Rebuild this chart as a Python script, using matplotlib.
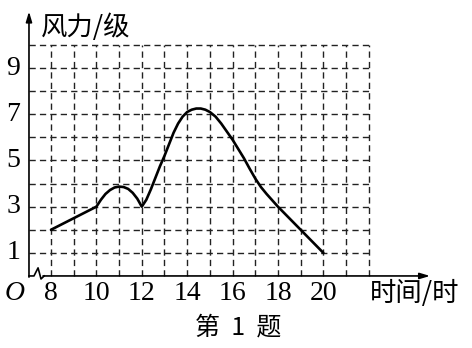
import matplotlib.pyplot as plt

plt.rcParams['font.family'] = ['Liberation Serif', 'Noto Sans CJK SC', 'DejaVu Sans']

# wind level over the day
hours = [8, 10, 10.2, 10.4, 10.6, 10.8, 11, 11.2, 11.4, 11.6, 11.8, 12,
         12.2, 12.4, 12.6, 12.8, 13.0, 13.2, 13.4, 13.6, 13.8, 14.0, 14.2,
         14.4, 14.6, 14.8, 15.0, 15.25, 15.5, 15.75, 16.0, 16.25, 16.5,
         16.75, 17.0, 17.25, 17.5, 18.0, 18.5, 19.0, 19.5, 20]
wind = [2, 3, 3.3, 3.55, 3.72, 3.83, 3.87, 3.85, 3.77, 3.6, 3.35, 3.0,
        3.3, 3.75, 4.25, 4.75, 5.2, 5.7, 6.2, 6.6, 6.9, 7.1, 7.2,
        7.25, 7.25, 7.2, 7.1, 6.9, 6.6, 6.25, 5.9, 5.5, 5.1,
        4.65, 4.22, 3.85, 3.55, 3.0, 2.5, 2.0, 1.5, 1.0]

x_ticks = [8, 10, 12, 14, 16, 18, 20]
y_ticks = [1, 3, 5, 7, 9]
grid_x = list(range(8, 23))
grid_y = list(range(1, 11))

fig = plt.figure(figsize=(4.72, 3.48), dpi=100)
ax = fig.add_axes([0, 0, 1, 1])
ax.set_xlim(5.753, 26.55)
ax.set_ylim(-3.12, 11.95)
ax.axis('off')

x0 = 7.03  # where the y axis sits
dash = dict(color='#222222', lw=1.0, ls=(0, (4.5, 3)))

# dashed grid
for gy in grid_y:
    ax.plot([x0, 22], [gy, gy], **dash)
for gx in grid_x:
    ax.plot([gx, gx], [0, 10], **dash)

# axes with arrows
ax.annotate('', xy=(x0, 11.45), xytext=(x0, -0.05),
            arrowprops=dict(arrowstyle='-|>,head_length=0.6,head_width=0.18',
                            color='black', lw=1.2, shrinkA=0, shrinkB=0))
ax.annotate('', xy=(24.7, 0), xytext=(7.65, 0),
            arrowprops=dict(arrowstyle='-|>,head_length=0.6,head_width=0.18',
                            color='black', lw=1.2, shrinkA=0, shrinkB=0))
# broken-axis zigzag near origin
ax.plot([x0, 7.25, 7.43, 7.56, 7.70], [0, 0, 0.35, -0.13, 0], color='black', lw=1.2)

# curve
ax.plot(hours, wind, color='black', lw=1.9, solid_capstyle='round',
        solid_joinstyle='round')

# labels
cjk = ['Noto Sans CJK SC', 'DejaVu Sans']
for t in y_ticks:
    ax.text(6.33, t, str(t), ha='center', va='center', fontsize=20)
for t in x_ticks:
    ax.text(t, -0.78, str(t), ha='center', va='center', fontsize=20)
ax.text(6.41, -0.74, 'O', ha='center', va='center', fontsize=20, style='italic')
ax.text(9.54, 10.78, '风力/级', ha='center', va='center', fontsize=19, family=cjk)
ax.text(24.03, -0.74, '时间/时', ha='center', va='center', fontsize=19, family=cjk)
ax.text(16.24, -2.25, '第  1  题', ha='center', va='center', fontsize=18, family=cjk)

fig.savefig('out.png', dpi=100)
